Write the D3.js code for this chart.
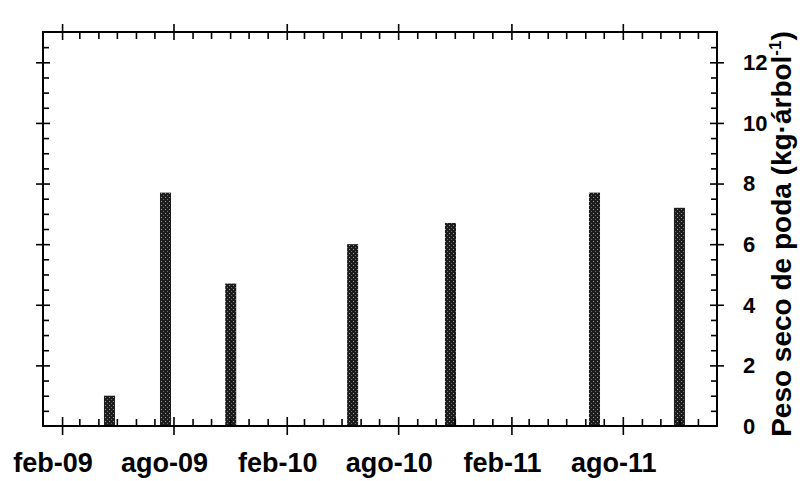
<!DOCTYPE html>
<html>
<head>
<meta charset="utf-8">
<script src="https://cdn.jsdelivr.net/npm/d3@7"></script>
<style>
    body { margin: 0; background: #fff; }
    svg { display: block; font-family: 'Liberation Sans', Arial, sans-serif; }
    .lab { font-weight: bold; fill: #000; }
</style>
</head>
<body>
<div id="chart"></div>
<script>
// pruning dates and dry weight (kg per tree)
const podaFechas = ['2009-04-19', '2009-07-19', '2009-11-02', '2010-05-19', '2010-10-25', '2011-06-16', '2011-11-01'];
const podaPeso = [1.0, 7.7, 4.7, 6.0, 6.7, 7.7, 7.2];
const yTicks = [0, 2, 4, 6, 8, 10, 12];
const meses = ['ene', 'feb', 'mar', 'abr', 'may', 'jun', 'jul', 'ago', 'sep', 'oct', 'nov', 'dic'];

const W = 802, H = 481;
const MARGIN = { top: 32, right: 85, bottom: 55, left: 43 };

const parse = d3.timeParse('%Y-%m-%d');
const data = podaFechas.map((f, i) => ({ date: parse(f), value: podaPeso[i] }));

const svg = d3.select('#chart').append('svg').attr('width', W).attr('height', H);

// pattern for the speckled bars
const pat = svg.append('defs').append('pattern')
    .attr('id', 'speck').attr('width', 4).attr('height', 4)
    .attr('patternUnits', 'userSpaceOnUse');
pat.append('rect').attr('width', 4).attr('height', 4).attr('fill', '#1c1c1c');
pat.append('rect').attr('x', 1).attr('y', 1).attr('width', 1).attr('height', 1).attr('fill', '#9a9a9a');
pat.append('rect').attr('x', 3).attr('y', 3).attr('width', 1).attr('height', 1).attr('fill', '#6a6a6a');

const x = d3.scaleTime()
    .domain([new Date(2009, 0, 1), new Date(2012, 0, 1)])
    .range([MARGIN.left, W - MARGIN.right]);

const y = d3.scaleLinear()
    .domain([0, 13])
    .range([H - MARGIN.bottom, MARGIN.top]);

const x0 = MARGIN.left, x1 = W - MARGIN.right;
const y0 = H - MARGIN.bottom, y1 = MARGIN.top;

const months = d3.timeMonth.range(new Date(2009, 1, 1), new Date(2012, 0, 1));
const majors = months.filter(d => d.getMonth() === 1 || d.getMonth() === 7);
const minors = months.filter(d => !(d.getMonth() === 1 || d.getMonth() === 7));

const yMinor = d3.range(0.5, 13, 0.5).filter(v => v % 2 !== 0);

// BARS
svg.selectAll('.bar')
    .data(data)
    .enter()
    .append('rect')
    .attr('class', 'bar')
    .attr('x', d => x(d.date) - 5.5)
    .attr('width', 11)
    .attr('y', d => y(d.value))
    .attr('height', d => y(0) - y(d.value))
    .attr('fill', 'url(#speck)');

// AXES (ticks only, frame drawn after)
function noDomain(g) { g.select('.domain').remove(); g.selectAll('text').remove(); }

// bottom: minor inward, major crossing
svg.append('g').attr('transform', `translate(0,${y0})`)
    .call(d3.axisBottom(x).tickValues(minors).tickSizeInner(-7).tickSizeOuter(0)).call(noDomain);
svg.append('g').attr('transform', `translate(0,${y0 - 9})`)
    .call(d3.axisBottom(x).tickValues(majors).tickSizeInner(18).tickSizeOuter(0)).call(noDomain);

// top
svg.append('g').attr('transform', `translate(0,${y1})`)
    .call(d3.axisTop(x).tickValues(minors).tickSizeInner(-7).tickSizeOuter(0)).call(noDomain);
svg.append('g').attr('transform', `translate(0,${y1 + 8})`)
    .call(d3.axisTop(x).tickValues(majors).tickSizeInner(16).tickSizeOuter(0)).call(noDomain);

// left
svg.append('g').attr('transform', `translate(${x0},0)`)
    .call(d3.axisLeft(y).tickValues(yMinor).tickSizeInner(-6).tickSizeOuter(0)).call(noDomain);
svg.append('g').attr('transform', `translate(${x0 + 7},0)`)
    .call(d3.axisLeft(y).tickValues(yTicks.slice(1)).tickSizeInner(14).tickSizeOuter(0)).call(noDomain);

// right
svg.append('g').attr('transform', `translate(${x1},0)`)
    .call(d3.axisRight(y).tickValues(yMinor).tickSizeInner(-6).tickSizeOuter(0)).call(noDomain);
svg.append('g').attr('transform', `translate(${x1 - 7},0)`)
    .call(d3.axisRight(y).tickValues(yTicks.slice(1)).tickSizeInner(14).tickSizeOuter(0)).call(noDomain);

svg.selectAll('.tick line').attr('stroke', '#000').attr('stroke-width', 1.6);

// FRAME
svg.append('rect')
    .attr('x', x0).attr('y', y1)
    .attr('width', x1 - x0).attr('height', y0 - y1)
    .attr('fill', 'none').attr('stroke', '#000').attr('stroke-width', 2);

// BOTTOM LABELS
svg.selectAll('.xlab')
    .data(majors)
    .enter()
    .append('text')
    .attr('class', 'lab xlab')
    .attr('x', d => x(d) - 9)
    .attr('y', 472)
    .attr('text-anchor', 'middle')
    .style('font-size', '27px')
    .text(d => meses[d.getMonth()] + '-' + d3.timeFormat('%y')(d));

// RIGHT LABELS
svg.selectAll('.ylab')
    .data(yTicks)
    .enter()
    .append('text')
    .attr('class', 'lab ylab')
    .attr('x', x1 + 26)
    .attr('y', d => y(d))
    .attr('dy', '0.36em')
    .style('font-size', '22px')
    .text(d => d);

// AXIS TITLE
const title = svg.append('text')
    .attr('class', 'lab')
    .attr('transform', `translate(791,234) rotate(-90)`)
    .attr('text-anchor', 'middle')
    .style('font-size', '28px');
title.append('tspan').text('Peso seco de poda (kg·árbol');
title.append('tspan').attr('dy', -10).style('font-size', '17px').text('-1');
title.append('tspan').attr('dy', 10).text(')');
</script>
</body>
</html>
